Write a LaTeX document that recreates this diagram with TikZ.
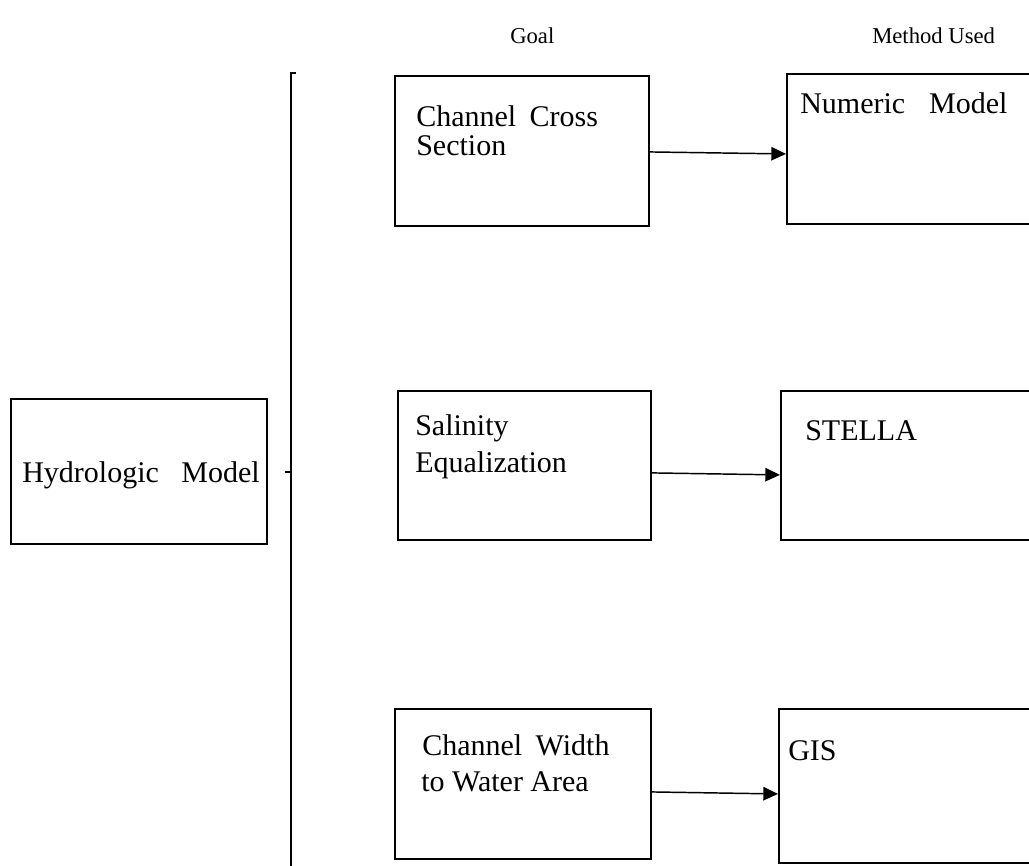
\documentclass[tikz,border=0pt]{standalone}
\usepackage{fontspec}
\setmainfont{Liberation Serif}
\usetikzlibrary{arrows.meta}
\begin{document}
\begin{tikzpicture}[x=0.75pt,y=-0.75pt,
  box/.style={draw, line width=1.4pt, inner sep=0pt, anchor=north west},
  txt/.style={anchor=base west, inner sep=0pt, font=\fontsize{22.5}{27}\selectfont},
  head/.style={anchor=base west, inner sep=0pt, font=\fontsize{17}{20}\selectfont},
  arr/.style={line width=1.1pt, -{Triangle[length=11pt,width=10pt]}},
  bar/.style={line width=1.4pt}]
\useasboundingbox (0,0) rectangle (1029,865);
% headers
\node[head] (hgoal) at (510,43) {Goal};
\node[head] (hmeth) at (872,43) {Method Used};
% boxes
\node[box, minimum width=192pt, minimum height=108.75pt] (hyd) at (10,398) {};
\node[box, minimum width=190.5pt, minimum height=112.5pt] (cc) at (394,75) {};
\node[box, minimum width=189.75pt, minimum height=111.75pt] (sal) at (397,390) {};
\node[box, minimum width=192pt, minimum height=112.5pt] (cw) at (394,708) {};
\node[box, minimum width=194.25pt, minimum height=112.5pt] (nm) at (786,73) {};
\node[box, minimum width=198.75pt, minimum height=111.75pt] (st) at (780,390) {};
\node[box, minimum width=200.25pt, minimum height=115.5pt] (gis) at (778,708) {};
% texts
\node[txt] (thyd) at (22,482) {Hydrologic\hspace{0.75em}Model};
\node[txt] (tcc1) at (416,126) {Channel\hspace{0.45em}Cross};
\node[txt] (tcc2) at (416,155) {Section};
\node[txt] (tsal1) at (415,435) {Salinity};
\node[txt] (tsal2) at (415,472) {Equalization};
\node[txt] (tcw1) at (422,755) {Channel\hspace{0.45em}Width};
\node[txt] (tcw2) at (421,791) {to Water Area};
\node[txt] (tnm) at (800,113) {Numeric\hspace{0.8em}Model};
\node[txt] (tst) at (805,440) {STELLA};
\node[txt] (tgis) at (788,760) {GIS};
% bracket line
\coordinate (vtop) at (291,73);
\coordinate (vbot) at (291,870);
\coordinate (vtick) at (296,73);
\coordinate (vmid) at (291,472);
\coordinate (vmidl) at (285,472);
\draw[bar] (vtick) -- (vtop) -- (vbot);
\draw[bar] (vmidl) -- (vmid);
% arrows
\draw[arr] ([yshift=-0.75pt]cc.east) -- ([yshift=-3.75pt]nm.west);
\draw[arr] ([yshift=-5.6pt]sal.east) -- ([yshift=-7.1pt]st.west);
\draw[arr] ([yshift=-6pt]cw.east) -- ([yshift=-6pt]gis.west);
\end{tikzpicture}
\end{document}
